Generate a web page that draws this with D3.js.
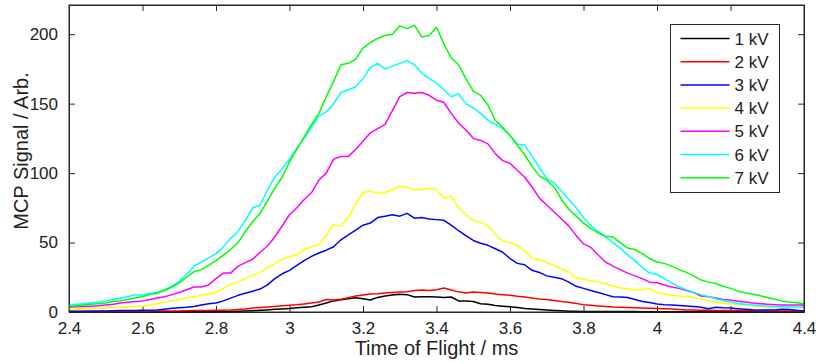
<!DOCTYPE html>
<html>
<head>
<meta charset="utf-8">
<script src="https://cdn.jsdelivr.net/npm/d3@7"></script>
<style>
    body { margin: 0; background: #fff; }
    svg { display: block; font-family: "Liberation Sans", Arial, sans-serif; }
    .axis path, .axis line { stroke: #262626; }
    .axis text { fill: #222; font-size: 17px; }
</style>
</head>
<body>
<div id="chart-area"></div>
<script>

/* data: time sampled every 0.02 ms from 2.4 to 4.4 */
const T_START = 2.4;
const T_STEP = 0.02;

const seriesNames = ["1 kV", "2 kV", "3 kV", "4 kV", "5 kV", "6 kV", "7 kV"];
const seriesColors = ["#000000", "#ff0000", "#0000ff", "#ffff00", "#ff00ff", "#00ffff", "#00ff00"];

const kv1 = [0.2, 0.2, 0.2, 0.2, 0.2, 0.2, 0.2, 0.2, 0.2, 0.2, 0.2, 0.2, 0.2, 0.2, 0.2, 0.2, 0.2, 0.2, 0.2, 0.2, 0.2,
    0.3, 0.4, 0.5, 0.7, 0.9, 1.2, 1.5, 1.9, 2.2, 2.6, 3, 3.4, 3.8, 5, 6.5, 8, 8.8, 9.6, 10.2, 9.5,
    8.6, 10.5, 11.5, 12.2, 12.8, 12.5, 10.8, 11, 11, 10.8, 10.5, 10.8, 8, 8, 7.5, 6, 5.5, 4.6, 4.2, 3.8,
    3.3, 2.6, 2.2, 1.8, 1.4, 1.1, 0.9, 0.6, 0.5, 0.4, 0.3, 0.3, 0.3, 0.3, 0.3, 0.3, 0.3, 0.2, 0.2, 0.2,
    0.2, 0.2, 0.2, 0.2, 0.2, 0.2, 0.2, 0.2, 0.2, 0.2, 0.2, 0.2, 0.2, 0.2, 0.2, 0.2, 0.2, 0.2, 0.2, 0.2];

const kv2 = [0.3, 0.3, 0.3, 0.4, 0.4, 0.4, 0.5, 0.5, 0.5, 0.6, 0.6, 0.6, 0.7, 0.7, 0.8, 0.8, 0.9, 1, 1, 1.1, 1.2,
    1.3, 1.4, 1.8, 2.2, 2.8, 3.2, 3.6, 4, 4.5, 4.8, 5.2, 5.8, 6.5, 7.2, 9, 8.6, 9.2, 10.3, 11.5, 12.2,
    13, 13.2, 13.7, 14, 14.4, 14.6, 15.5, 15.8, 15.5, 16, 17.3, 15.8, 14.5, 13.7, 14.4, 14, 13.7, 13, 12.5, 12,
    11.3, 10.8, 10, 9.4, 9, 8.2, 7.5, 7, 6.2, 5.2, 4.8, 4.4, 4, 3.6, 3.4, 3.2, 3, 2.9, 2.7, 2.5,
    2.3, 2.2, 1.8, 1.5, 1.4, 1.3, 1.2, 1.1, 1, 1, 1, 0.9, 0.9, 0.8, 0.8, 0.8, 0.8, 0.8, 0.8, 0.8];

const kv3 = [0.5, 0.5, 0.6, 0.7, 0.8, 0.8, 0.9, 1, 1, 1.1, 1.2, 1.3, 1.4, 2, 2.7, 3, 3.4, 4, 5, 6, 6.5,
    8, 10, 12, 13.5, 15, 16.5, 19.5, 24, 27.5, 30, 33.5, 37, 40, 42.5, 44.5, 47, 52, 55.5, 59, 62.5,
    64, 68, 69, 70, 69, 71, 67.5, 68, 67, 66.5, 66, 62.5, 58.5, 55, 51.5, 49.5, 48, 45.5, 43, 38.5,
    35, 34, 30, 28.5, 26, 25, 24, 21.5, 18.5, 17, 15.5, 14, 12.5, 11, 10.8, 10.5, 9, 7.5, 6.8, 5.8,
    5.3, 5, 4.7, 4.3, 4, 3.4, 2.4, 3.4, 3, 2.8, 2.4, 2, 1.6, 1.4, 1.4, 1.5, 2, 1.8, 1.2, 0.7];

const kv4 = [2, 2.2, 2.4, 2.6, 2.8, 3, 3, 3.3, 3.8, 4, 4.3, 5, 6, 7, 8, 9, 10, 11, 12, 13, 14,
    17, 20, 21.5, 24, 26.5, 28.5, 32, 35, 38, 40, 41, 45, 47, 48.5, 55, 63, 62, 68, 78, 86,
    87, 85.5, 86, 88, 90.5, 90, 88, 88, 89.5, 88, 82, 83.5, 75, 70, 66, 64.5, 62, 56, 51, 50,
    48, 44, 38.5, 38, 35.5, 33.5, 31, 29, 24.5, 23.5, 22.5, 21.5, 20.5, 18.5, 17.5, 16.5, 16, 16, 17, 14,
    13, 12, 11.5, 11, 10.5, 9.5, 8, 7, 6.3, 5.8, 5.4, 5, 4.5, 3.8, 3.6, 3.6, 3.6, 3.8, 4, 4.3];

const kv5 = [3.5, 3.8, 4, 4.2, 4.5, 5, 5.5, 6.5, 7, 7.5, 8, 9, 10, 11, 12.5, 14, 16, 18, 18, 19.5, 24,
    28, 28, 33, 35.5, 38, 43, 47.5, 54, 62, 70, 75, 81, 86, 95, 100, 110, 112, 112, 117, 123,
    129, 132, 135, 145, 155, 158, 157.5, 158, 156, 152.5, 151, 143, 136, 131, 125, 123.5, 121, 114, 109, 107,
    102, 97, 90, 82, 77, 72, 67, 62, 55, 49, 46.5, 41, 36, 33, 30.5, 28, 26, 24, 21.5, 21,
    19.5, 18, 17, 15.5, 14, 11.5, 11, 10, 9, 8.6, 7.8, 7.2, 6.5, 6, 5.6, 5.3, 5, 5, 5, 5];

const kv6 = [5, 5.5, 6, 6.5, 7, 8, 9, 10, 11, 12.5, 12, 13.5, 14, 16, 18.5, 22, 27, 33, 36, 39, 42,
    47, 53, 58, 66, 75, 77, 88, 97, 103, 110, 118, 125, 133, 141, 144, 150, 158, 160, 162, 168,
    176, 179, 175, 177, 179, 181, 178, 172, 168, 165, 160, 155, 157, 150, 147, 143, 138, 135, 132, 127,
    121, 120, 112, 104, 96, 93, 87, 81, 75, 68, 62, 58, 54, 50, 46, 41, 37, 32, 28, 27,
    24, 21, 18, 16, 14, 12.5, 11, 9.5, 8.3, 7.2, 6.2, 5.5, 5, 4.5, 4.2, 4, 3.8, 3.6, 3.6, 3.5];

const kv7 = [4, 4.5, 5, 5.5, 6, 6.5, 7.5, 8, 9, 10, 11, 12.5, 13.5, 15.5, 18, 21, 25, 29, 30.5, 33.5, 37,
    41, 45, 50, 58, 65, 71, 80, 89, 97, 108, 117, 126, 135, 143, 155, 166, 178, 179, 182, 190,
    194, 197, 199, 200, 206, 204, 206.5, 198, 199, 205, 193, 183, 178, 168, 159, 156, 149, 138, 133, 127,
    120, 113, 105, 98, 95, 90, 81, 74, 69, 64, 60, 57, 54.5, 54, 50, 46, 45, 42, 38.5, 36,
    35, 33, 30.5, 28.5, 26, 23, 21.5, 20.5, 18.5, 17, 15, 13.8, 12.8, 11.8, 10.5, 9.2, 8, 7.2, 6.6, 6];

const seriesValues = [kv1, kv2, kv3, kv4, kv5, kv6, kv7];

const xTickValues = [2.4, 2.6, 2.8, 3, 3.2, 3.4, 3.6, 3.8, 4, 4.2, 4.4];
const yTickValues = [0, 50, 100, 150, 200];

/* graphical constants */
const margin = { left: 69, right: 12, top: 5, bottom: 51 };
const width = 816 - margin.left - margin.right;
const height = 363 - margin.top - margin.bottom;
const TICK = 6;

const svg = d3.select("#chart-area")
    .append("svg")
    .attr("width", width + margin.left + margin.right)
    .attr("height", height + margin.top + margin.bottom);

const g = svg.append("g")
    .attr("transform", "translate(" + margin.left + ", " + margin.top + ")");

// scales
const x = d3.scaleLinear()
    .domain([2.4, 4.4])
    .range([0, width]);

const y = d3.scaleLinear()
    .domain([0, 221])
    .range([height, 0]);

// inward ticks on all four sides, matlab style
g.append("g")
    .attr("class", "axis")
    .attr("transform", "translate(0," + height + ")")
    .call(d3.axisBottom(x).tickValues(xTickValues).tickFormat(d3.format("~g"))
        .tickSizeInner(-TICK).tickSizeOuter(0).tickPadding(TICK + 4));

g.append("g")
    .attr("class", "axis")
    .call(d3.axisLeft(y).tickValues(yTickValues).tickSizeInner(-TICK).tickSizeOuter(0).tickPadding(TICK + 5));

g.append("g")
    .attr("class", "axis")
    .call(d3.axisTop(x).tickValues(xTickValues).tickFormat("").tickSizeInner(-TICK).tickSizeOuter(0));

g.append("g")
    .attr("class", "axis")
    .attr("transform", "translate(" + width + ",0)")
    .call(d3.axisRight(y).tickValues(yTickValues).tickFormat("").tickSizeInner(-TICK).tickSizeOuter(0));

// lines
const line = d3.line()
    .x((d, i) => x(T_START + i * T_STEP))
    .y(d => y(d));

g.selectAll(".series")
    .data(seriesValues)
    .enter()
    .append("path")
    .attr("class", "series")
    .attr("fill", "none")
    .attr("stroke", (d, i) => seriesColors[i])
    .attr("stroke-width", 1.5)
    .attr("stroke-linejoin", "round")
    .attr("d", line);

// frame on top of lines
g.append("rect")
    .attr("width", width)
    .attr("height", height)
    .attr("fill", "none")
    .attr("stroke", "#262626");

// axis labels
svg.append("text")
    .attr("x", margin.left + width / 2)
    .attr("y", 355)
    .attr("text-anchor", "middle")
    .attr("font-size", "20px")
    .attr("fill", "#222")
    .text("Time of Flight / ms");

svg.append("text")
    .attr("transform", "translate(28,151) rotate(-90)")
    .attr("text-anchor", "middle")
    .attr("font-size", "20px")
    .attr("fill", "#222")
    .text("MCP Signal / Arb.");

// legend
const legend = svg.append("g")
    .attr("transform", "translate(670.5,24.5)");

legend.append("rect")
    .attr("width", 109)
    .attr("height", 168)
    .attr("fill", "#fff")
    .attr("stroke", "#262626");

const rows = legend.selectAll(".row")
    .data(seriesNames)
    .enter()
    .append("g")
    .attr("class", "row")
    .attr("transform", (d, i) => "translate(0," + (14 + i * 23.2) + ")");

rows.append("line")
    .attr("x1", 10)
    .attr("x2", 59)
    .attr("stroke", (d, i) => seriesColors[i])
    .attr("stroke-width", 1.5);

rows.append("text")
    .attr("x", 64)
    .attr("y", 6)
    .attr("font-size", "17px")
    .attr("fill", "#222")
    .text(d => d);

</script>
</body>
</html>
